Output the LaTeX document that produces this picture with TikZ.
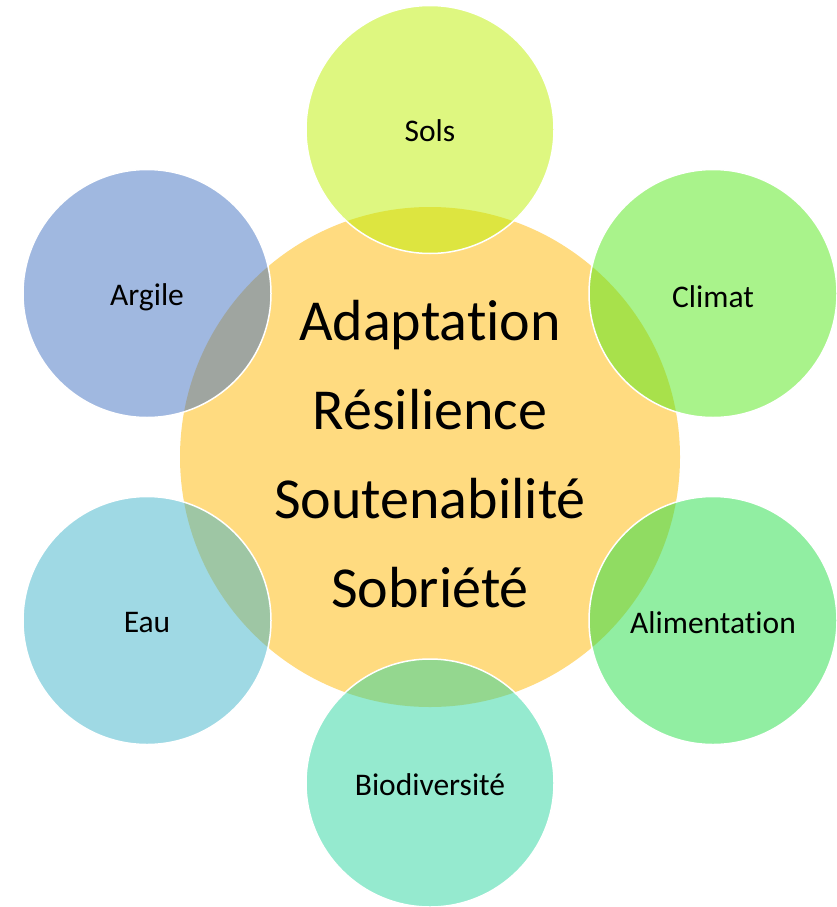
\documentclass[tikz,border=0pt]{standalone}
\usepackage{fontspec}
\setmainfont{Carlito}[Ligatures={CommonOff,ContextualOff}]
\definecolor{ccenter}{RGB}{255,219,128}
\definecolor{csols}{RGB}{189,239,1}
\definecolor{cclimat}{RGB}{83,231,23}
\definecolor{calim}{RGB}{35,221,69}
\definecolor{cbio}{RGB}{43,213,159}
\definecolor{ceau}{RGB}{63,179,201}
\definecolor{cargile}{RGB}{65,113,193}
\newcommand{\lbl}[2]{\raisebox{-#1pt}[\height][\depth]{#2}}
\tikzset{
  outer/.style={circle, minimum size=248pt, inner sep=0pt, draw=white, line width=1.5pt,
    fill opacity=0.5, text opacity=1, font=\fontsize{31.5}{36}\selectfont},
  hub/.style={circle, minimum size=500pt, inner sep=0pt, fill=ccenter}
}
\begin{document}
\begin{tikzpicture}[x=1pt,y=-1pt]
\useasboundingbox (0,0) rectangle (837,907);
\node[hub] (hub) at (430,457) {};
\node[outer, fill=csols] (sols) at (430,129.5) {\lbl{1}{Sols}};
\node[outer, fill=cclimat] (climat) at (713,293.5) {\lbl{3}{Climat}};
\node[outer, fill=calim] (alim) at (713,620.5) {\lbl{2}{Alimentation}};
\node[outer, fill=cbio] (bio) at (430,783) {\lbl{2}{Biodiversité}};
\node[outer, fill=ceau] (eau) at (147,620.5) {\lbl{2}{Eau}};
\node[outer, fill=cargile] (argile) at (147,293.5) {\lbl{4}{Argile}};
\node[align=center, font=\fontsize{58}{89}\selectfont] (txt) at ([yshift=3pt]hub.center) {Adaptation\\Résilience\\Soutenabilité\\Sobriété};
\end{tikzpicture}
\end{document}
